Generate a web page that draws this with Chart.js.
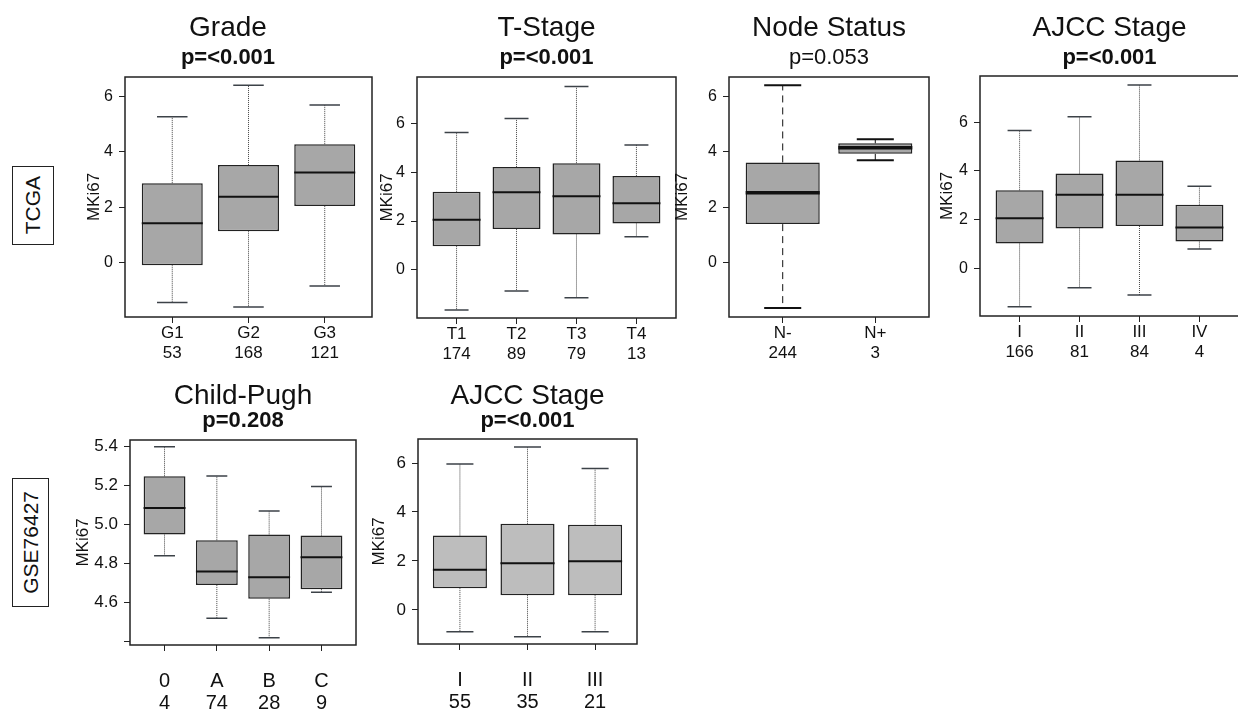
<!DOCTYPE html>
<html>
<head>
<meta charset="utf-8">
<script src="https://cdn.jsdelivr.net/npm/chart.js@4"></script>
<style>
  html, body { margin: 0; padding: 0; background: #fff; overflow: hidden; }
  body { position: relative; width: 1238px; height: 711px; font-family: "Liberation Sans", Arial, sans-serif; }
  canvas { position: absolute; }
  .rowlab { position: absolute; box-sizing: border-box; border: 1.5px solid #222; display: flex; align-items: center; justify-content: center; }
  .rowlab span { writing-mode: vertical-rl; transform: rotate(180deg); font-size: 21px; color: #111; }
</style>
</head>
<body>
<div class="rowlab" style="left:12px;top:166px;width:42px;height:79px"><span>TCGA</span></div>
<div class="rowlab" style="left:12px;top:478px;width:37px;height:129px"><span>GSE76427</span></div>
<script>
// box stats are [min, q1, median, q3, max]
const gradeCats = ["G1", "G2", "G3"];
const gradeCounts = ["53", "168", "121"];
const gradeStats = [
  [-1.45, -0.1, 1.42, 2.87, 5.27],
  [-1.61, 1.13, 2.38, 3.53, 6.41],
  [-0.85, 2.04, 3.26, 4.28, 5.7],
];

const tCats = ["T1", "T2", "T3", "T4"];
const tCounts = ["174", "89", "79", "13"];
const tStats = [
  [-1.64, 0.97, 2.05, 3.2, 5.63],
  [-0.86, 1.67, 3.18, 4.21, 6.2],
  [-1.14, 1.45, 3.02, 4.37, 7.51],
  [1.36, 1.9, 2.73, 3.85, 5.12],
];

const nodeCats = ["N-", "N+"];
const nodeCounts = ["244", "3"];
const nodeStats = [
  [-1.64, 1.39, 2.52, 3.62, 6.41],
  [3.7, 3.93, 4.15, 4.31, 4.46],
];

const ajccCats = ["I", "II", "III", "IV"];
const ajccCounts = ["166", "81", "84", "4"];
const ajccStats = [
  [-1.59, 1.01, 2.05, 3.2, 5.66],
  [-0.81, 1.63, 3.02, 3.89, 6.22],
  [-1.11, 1.73, 3.02, 4.43, 7.53],
  [0.79, 1.09, 1.67, 2.61, 3.37],
];

const cpCats = ["0", "A", "B", "C"];
const cpCounts = ["4", "74", "28", "9"];
const cpStats = [
  [4.84, 4.949, 5.085, 5.248, 5.4],
  [4.52, 4.69, 4.76, 4.92, 5.25],
  [4.42, 4.62, 4.73, 4.95, 5.07],
  [4.653, 4.669, 4.833, 4.944, 5.195],
];

const gseCats = ["I", "II", "III"];
const gseCounts = ["55", "35", "21"];
const gseStats = [
  [-0.89, 0.89, 1.64, 3.04, 5.96],
  [-1.09, 0.6, 1.91, 3.52, 6.65],
  [-0.89, 0.6, 1.99, 3.48, 5.78],
];

const mkTicks = [0, 2, 4, 6];
const mkTickLabels = ["0", "2", "4", "6"];
const cpTicks = [4.4, 4.6, 4.8, 5.0, 5.2, 5.4];
const cpTickLabels = ["", "4.6", "4.8", "5.0", "5.2", "5.4"];

Chart.defaults.font.family = '"Liberation Sans", Arial, sans-serif';
Chart.defaults.color = "#111";

// whiskers, caps, medians and the plot frame
const boxPlot = {
  id: "boxPlot",
  beforeDatasetsDraw(chart, args, opts) {
    const { ctx, scales: { y } } = chart;
    const bars = chart.getDatasetMeta(0).data;
    ctx.save();
    opts.stats.forEach((s, i) => {
      const px = bars[i].x;
      const cap = bars[i].width / 4;
      ctx.strokeStyle = opts.whiskerColor;
      ctx.lineWidth = 1;
      ctx.setLineDash(opts.whiskerDash);
      ctx.beginPath();
      ctx.moveTo(px, y.getPixelForValue(s[3]));
      ctx.lineTo(px, y.getPixelForValue(s[4]));
      ctx.moveTo(px, y.getPixelForValue(s[1]));
      ctx.lineTo(px, y.getPixelForValue(s[0]));
      ctx.stroke();
      ctx.setLineDash([]);
      ctx.strokeStyle = opts.capColor;
      ctx.lineWidth = opts.capWidth;
      ctx.beginPath();
      [s[0], s[4]].forEach((v) => {
        const py = y.getPixelForValue(v);
        ctx.moveTo(px - cap, py);
        ctx.lineTo(px + cap, py);
      });
      ctx.stroke();
    });
    ctx.restore();
  },
  afterDatasetsDraw(chart, args, opts) {
    const { ctx, chartArea: a, scales: { y } } = chart;
    const bars = chart.getDatasetMeta(0).data;
    ctx.save();
    ctx.strokeStyle = "#111";
    ctx.lineWidth = opts.medianWidth;
    opts.stats.forEach((s, i) => {
      const py = y.getPixelForValue(s[2]);
      ctx.beginPath();
      ctx.moveTo(bars[i].x - bars[i].width / 2, py);
      ctx.lineTo(bars[i].x + bars[i].width / 2, py);
      ctx.stroke();
    });
    ctx.lineWidth = 1.5;
    ctx.strokeStyle = "#222";
    ctx.strokeRect(a.left, a.top, a.right - a.left, a.bottom - a.top);
    ctx.restore();
  },
};

const row1 = { top: 0, titleY: 28, subY: 58, xh: 50, xFont: 17, xLine: 1.2, xPad: 0, yFont: 16 };
const row2 = { top: 370, titleY: 396, subY: 420, xh: 66, xFont: 20, xLine: 1.1, xPad: 19, yFont: 17 };

const dotted = { whiskerDash: [1, 1], whiskerColor: "#444", capColor: "#3c4248", capWidth: 1.5, medianWidth: 2 };

const panels = [
  { row: row1, title: "Grade", pval: "p=<0.001", pBold: true, wideTitle: true, cats: gradeCats, counts: gradeCounts, stats: gradeStats,
    yMin: -1.97, yMax: 6.71, yTicks: mkTicks, yLabels: mkTickLabels,
    L: 125, T: 77, R: 372, B: 317, yTitleX: 94, fill: "#a7a7a7", style: dotted },
  { row: row1, title: "T-Stage", pval: "p=<0.001", pBold: true, cats: tCats, counts: tCounts, stats: tStats,
    yMin: -1.97, yMax: 7.9, yTicks: mkTicks, yLabels: mkTickLabels,
    L: 417, T: 77, R: 676, B: 318, yTitleX: 387, fill: "#a7a7a7", style: dotted },
  { row: row1, title: "Node Status", pval: "p=0.053", pBold: false, cats: nodeCats, counts: nodeCounts, stats: nodeStats,
    yMin: -1.97, yMax: 6.71, yTicks: mkTicks, yLabels: mkTickLabels,
    L: 729, T: 77, R: 929, B: 317, yTitleX: 682, fill: "#a7a7a7",
    style: { whiskerDash: [7, 5], whiskerColor: "#111", capColor: "#111", capWidth: 2, medianWidth: 3.5 } },
  { row: row1, title: "AJCC Stage", pval: "p=<0.001", pBold: true, cats: ajccCats, counts: ajccCounts, stats: ajccStats,
    yMin: -1.97, yMax: 7.9, yTicks: mkTicks, yLabels: mkTickLabels,
    L: 980, T: 76, R: 1239, B: 316, yTitleX: 947, fill: "#a7a7a7", style: dotted },
  { row: row2, title: "Child-Pugh", pval: "p=0.208", pBold: true, cats: cpCats, counts: cpCounts, stats: cpStats,
    yMin: 4.383, yMax: 5.434, yTicks: cpTicks, yLabels: cpTickLabels,
    L: 130, T: 440, R: 356, B: 645, yTitleX: 83, fill: "#a7a7a7", style: dotted },
  { row: row2, title: "AJCC Stage", pval: "p=<0.001", pBold: true, cats: gseCats, counts: gseCounts, stats: gseStats,
    yMin: -1.39, yMax: 6.98, yTicks: mkTicks, yLabels: mkTickLabels,
    L: 418, T: 439, R: 637, B: 644, yTitleX: 379, fill: "#bdbdbd", style: dotted },
];

const titleSize = 28;
const subSize = 22;

function makePanel(p) {
  const r = p.row;
  const n = p.cats.length;
  const left = p.yTitleX - 10;
  const w = p.R + 3 - left;
  const h = p.B + r.xh - r.top;

  const cv = document.createElement("canvas");
  cv.width = w;
  cv.height = h;
  cv.style.left = left + "px";
  cv.style.top = r.top + "px";
  cv.style.width = w + "px";
  cv.style.height = h + "px";
  document.body.appendChild(cv);

  // title / subtitle paddings so that the text lands where the reference has it
  const tPadTop = r.titleY - r.top - titleSize / 2;
  const subTop = r.top + tPadTop + titleSize;
  const sPadTop = Math.max(0, r.subY - subSize / 2 - subTop);
  const sPadBottom = p.T - (subTop + sPadTop + subSize);

  new Chart(cv, {
    type: "bar",
    data: {
      datasets: [
        {
          data: p.stats.map((s, i) => ({ x: i + 1, y: [s[1], s[3]] })),
          backgroundColor: p.fill,
          borderColor: "#222",
          borderWidth: 1.5,
          borderSkipped: false,
          barPercentage: 0.8,
          categoryPercentage: 1,
        },
      ],
    },
    options: {
      responsive: false,
      animation: false,
      events: [],
      layout: { padding: { right: 3 } },
      plugins: {
        legend: { display: false },
        tooltip: { enabled: false },
        title: {
          display: true,
          text: p.title,
          fullSize: !!p.wideTitle,
          color: "#111",
          font: { size: titleSize, weight: "normal", lineHeight: 1 },
          padding: { top: tPadTop, bottom: 0 },
        },
        subtitle: {
          display: true,
          text: p.pval,
          fullSize: !!p.wideTitle,
          color: "#111",
          font: { size: subSize, weight: p.pBold ? "bold" : "normal", lineHeight: 1 },
          padding: { top: sPadTop, bottom: sPadBottom },
        },
        boxPlot: Object.assign({ stats: p.stats }, p.style),
      },
      scales: {
        x: {
          type: "linear",
          min: 0.5 - 0.04 * n,
          max: n + 0.5 + 0.04 * n,
          offset: false,
          border: { display: false },
          grid: { display: true, offset: false, drawOnChartArea: false, drawTicks: true, tickLength: 6, color: "#222" },
          ticks: {
            autoSkip: false,
            maxRotation: 0,
            padding: r.xPad,
            color: "#111",
            font: { size: r.xFont, lineHeight: r.xLine },
            callback: (v) => [p.cats[v - 1], p.counts[v - 1]],
          },
          afterBuildTicks: (a) => { a.ticks = p.cats.map((c, i) => ({ value: i + 1 })); },
          afterFit: (a) => { a.height = r.xh; },
        },
        y: {
          type: "linear",
          min: p.yMin,
          max: p.yMax,
          border: { display: false },
          grid: { display: true, drawOnChartArea: false, drawTicks: true, tickLength: 6, color: "#222" },
          ticks: {
            padding: 6,
            color: "#111",
            font: { size: r.yFont },
            callback: (v, i) => p.yLabels[i],
          },
          title: { display: true, text: "MKi67", color: "#111", font: { size: 17, lineHeight: 1.2 }, padding: 0 },
          afterBuildTicks: (a) => { a.ticks = p.yTicks.map((v) => ({ value: v })); },
          afterFit: (a) => { a.width = p.L - left; },
        },
      },
    },
    plugins: [boxPlot],
  });
}

panels.forEach(makePanel);
</script>
</body>
</html>
